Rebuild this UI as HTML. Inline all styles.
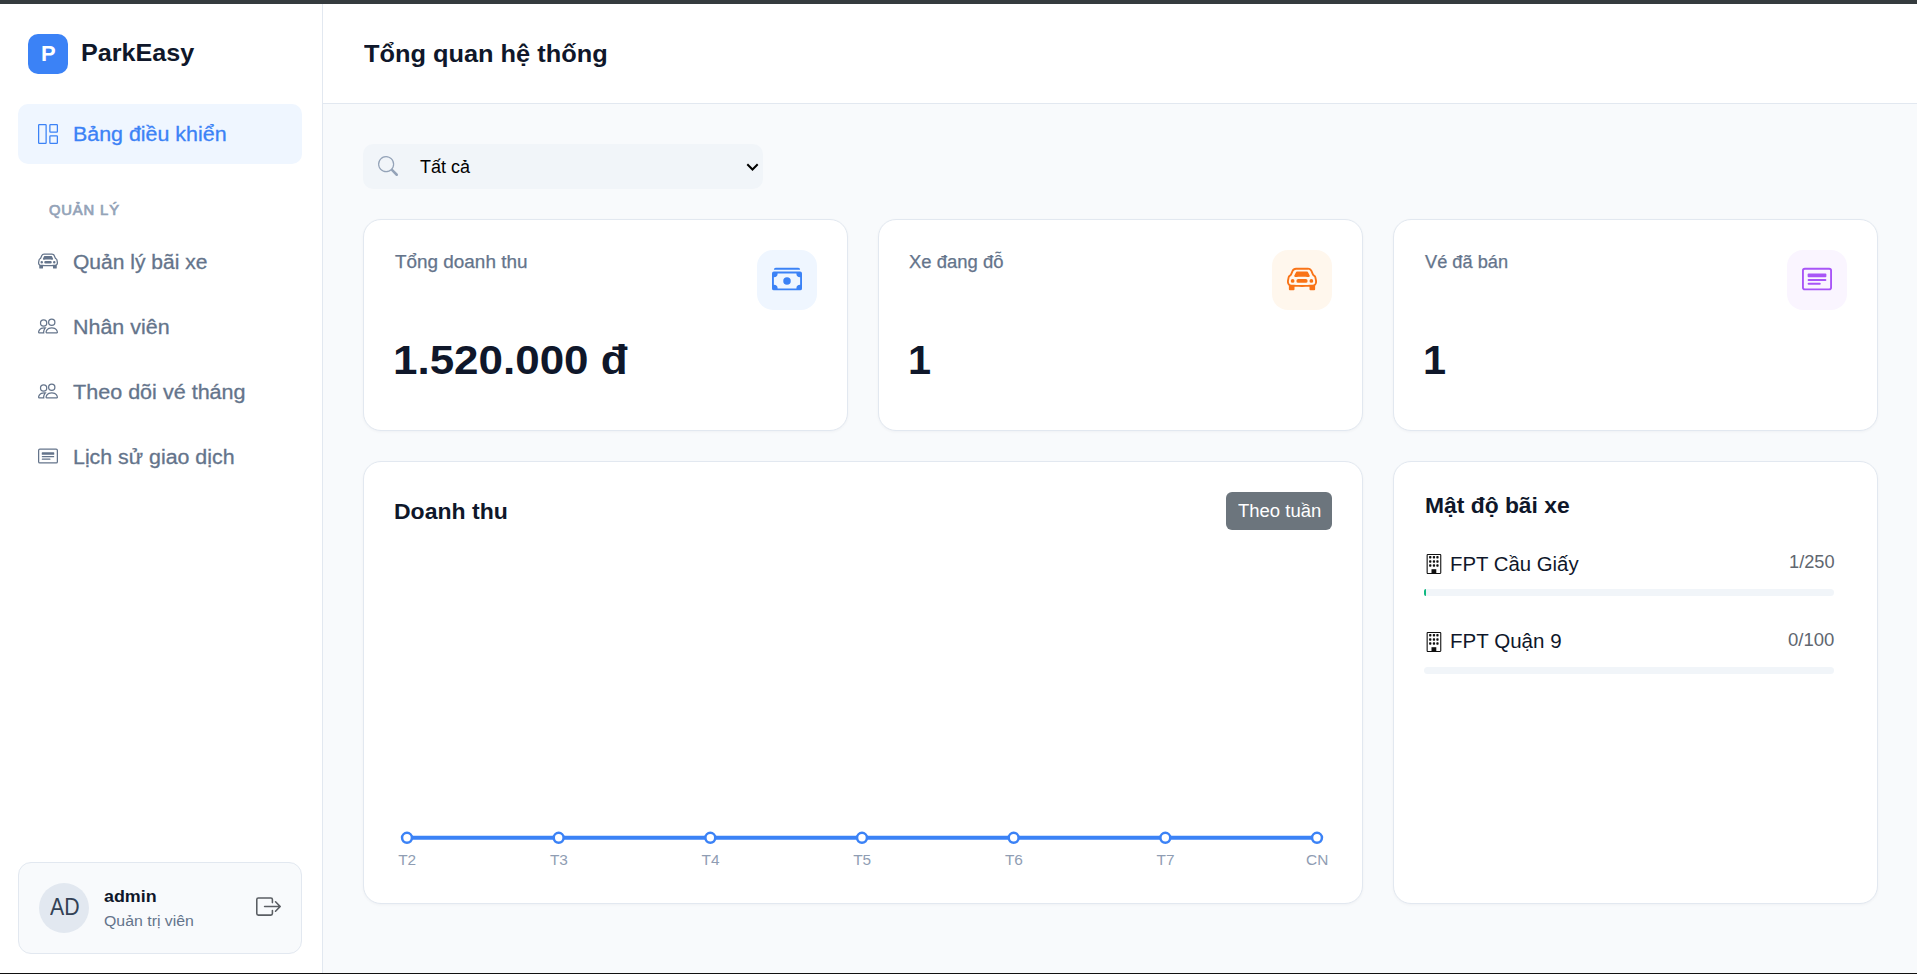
<!DOCTYPE html>
<html lang="vi">
<head>
<meta charset="utf-8">
<title>ParkEasy - Tổng quan hệ thống</title>
<style>
*{box-sizing:border-box;margin:0;padding:0}
html,body{width:1917px;height:974px;overflow:hidden;background:#f8fafc;font-family:"Liberation Sans",sans-serif;color:#0f172a}
body{position:relative}
.abs{position:absolute}
.t{position:absolute;white-space:nowrap;line-height:1;transform-origin:0 50%}
.topstrip{left:0;top:0;width:1917px;height:4px;background:#353b3e}
.botstrip{left:0;top:973px;width:1917px;height:1px;background:#111}
.sidebar{left:0;top:4px;width:323px;height:969px;background:#fff;border-right:1px solid #e2e8f0}
.header{left:323px;top:4px;width:1594px;height:100px;background:#fff;border-bottom:1px solid #e2e8f0}
.logo{left:28px;top:34px;width:40px;height:40px;border-radius:10px;background:#3b82f6}
.navact{left:18px;top:104px;width:284px;height:60px;border-radius:10px;background:#eff6ff}
.nav{color:#64748b;font-size:20px;-webkit-text-stroke:.3px #64748b}
.usercard{left:18px;top:862px;width:284px;height:92px;border-radius:13px;background:#f8fafc;border:1px solid #e2e8f0}
.avatar{left:39px;top:883px;width:50px;height:50px;border-radius:50%;background:#e2e8f0}
.select{left:363px;top:144px;width:400px;height:45px;border-radius:10px;background:#f1f5f9}
.card{background:#fff;border:1px solid #e2e8f0;border-radius:18px;box-shadow:0 1px 3px rgba(15,23,42,.04)}
.stat{top:219px;width:485px;height:212px}
.ibox{top:249.6px;width:60px;height:60px;border-radius:16px}
.lbl{color:#64748b;font-size:17px;-webkit-text-stroke:.25px #64748b}
.val{font-weight:bold;font-size:40px;color:#0f172a}
.btn{left:1226px;top:492px;width:106px;height:38px;border-radius:6px;background:#6c757d}
.bar{left:1424px;width:410px;height:7px;border-radius:4px;background:#f1f5f9}
svg{position:absolute;overflow:visible}
</style>
</head>
<body>
<div class="abs sidebar"></div>
<div class="abs header"></div>
<div class="abs topstrip"></div>
<div class="abs botstrip"></div>

<!-- sidebar -->
<div class="abs logo"></div>
<div id="t_p" class="t" style="left:40.7px;top:43.0px;font-size:22px;font-weight:bold;color:#fff;transform:scaleX(1.0001)">P</div>
<div id="t_brand" class="t" style="left:80.7px;top:41.3px;font-size:24px;font-weight:bold;color:#0f172a;transform:scaleX(1.0487)">ParkEasy</div>

<div class="abs navact"></div>
<svg id="i_grid" style="left:38px;top:124px" width="20" height="20" viewBox="0 0 16 16" fill="#3b82f6"><path d="M6 1H1v14h5zm9 0h-5v5h5zm0 9v5h-5v-5zM0 1a1 1 0 0 1 1-1h5a1 1 0 0 1 1 1v14a1 1 0 0 1-1 1H1a1 1 0 0 1-1-1zm9 0a1 1 0 0 1 1-1h5a1 1 0 0 1 1 1v5a1 1 0 0 1-1 1h-5a1 1 0 0 1-1-1zm1 8a1 1 0 0 0-1 1v5a1 1 0 0 0 1 1h5a1 1 0 0 0 1-1v-5a1 1 0 0 0-1-1z"/></svg>
<div id="t_nav0" class="t" style="left:72.8px;top:123.9px;font-size:20px;color:#3b82f6;-webkit-text-stroke:.3px #3b82f6;transform:scaleX(1.0704)">Bảng điều khiển</div>
<div id="t_sec" class="t" style="left:48.8px;top:203.1px;font-size:14px;font-weight:normal;-webkit-text-stroke:.7px #94a3b8;color:#94a3b8;letter-spacing:.8px;transform:scaleX(1.0564)">QUẢN LÝ</div>

<svg id="i_car" style="left:38px;top:251px" width="20" height="20" viewBox="0 0 16 16" fill="#64748b"><path d="M4 9a1 1 0 1 1-2 0 1 1 0 0 1 2 0m10 0a1 1 0 1 1-2 0 1 1 0 0 1 2 0M6 8a1 1 0 0 0 0 2h4a1 1 0 1 0 0-2zM4.862 4.276 3.906 6.19a.51.51 0 0 0 .497.731c.91-.073 2.35-.17 3.597-.17s2.688.097 3.597.17a.51.51 0 0 0 .497-.731l-.956-1.913A.5.5 0 0 0 10.691 4H5.309a.5.5 0 0 0-.447.276"/><path d="M2.52 3.515A2.5 2.5 0 0 1 4.820 2h6.362c1 0 1.904.596 2.298 1.515l.792 1.848c.075.175.21.319.38.404.5.25.855.715.965 1.262l.335 1.679q.05.242.049.490v.413c0 .814-.39 1.543-1 1.997V13.500a.5.5 0 0 1-.5.5h-2a.5.5 0 0 1-.5-.5v-1.338c-1.292.048-2.745.088-4 .088s-2.708-.04-4-.088V13.500a.5.5 0 0 1-.5.5h-2a.5.5 0 0 1-.5-.5v-1.892c-.61-.454-1-1.183-1-1.997v-.413a2.500 2.500 0 0 1 .049-.490l.335-1.680c.11-.546.465-1.012.964-1.261a.8.8 0 0 0 .381-.404l.792-1.848ZM4.820 3a1.500 1.500 0 0 0-1.379.91l-.792 1.847a1.800 1.800 0 0 1-.853.904.8.8 0 0 0-.43.564L1.030 8.904a1.500 1.500 0 0 0-.03.294v.413c0 .796.62 1.448 1.408 1.484 1.555.07 3.786.155 5.592.155s4.037-.084 5.592-.155A1.480 1.480 0 0 0 15 9.611v-.413q0-.148-.03-.294l-.335-1.680a.8.8 0 0 0-.43-.563 1.800 1.800 0 0 1-.853-.904l-.792-1.848A1.500 1.500 0 0 0 11.180 3z"/></svg>
<div id="t_nav1" class="t nav" style="left:72.9px;top:252.0px;transform:scaleX(1.0516)">Quản lý bãi xe</div>

<svg id="i_ppl1" style="left:38px;top:316px" width="20" height="20" viewBox="0 0 16 16" fill="#64748b"><path d="M15 14s1 0 1-1-1-4-5-4-5 3-5 4 1 1 1 1zm-7.978-1L7 12.996c.001-.264.167-1.030.76-1.720C8.312 10.629 9.282 10 11 10c1.717 0 2.687.63 3.240 1.276.593.69.758 1.457.76 1.720l-.8.002-.14.002zM11 7a2 2 0 1 0 0-4 2 2 0 0 0 0 4m3-2a3 3 0 1 1-6 0 3 3 0 0 1 6 0M6.936 9.280a6 6 0 0 0-1.230-.247A7 7 0 0 0 5 9c-4 0-5 3-5 4q0 1 1 1h4.216A2.240 2.240 0 0 1 5 13c0-1.010.377-2.042 1.090-2.904.243-.294.526-.569.846-.816M4.920 10A5.500 5.500 0 0 0 4 13H1c0-.26.164-1.030.76-1.724.545-.636 1.492-1.256 3.160-1.275ZM1.500 5.500a3 3 0 1 1 6 0 3 3 0 0 1-6 0m3-2a2 2 0 1 0 0 4 2 2 0 0 0 0-4"/></svg>
<div id="t_nav2" class="t nav" style="left:73.3px;top:316.8px;transform:scaleX(1.0727)">Nhân viên</div>

<svg id="i_ppl2" style="left:38px;top:381px" width="20" height="20" viewBox="0 0 16 16" fill="#64748b"><path d="M15 14s1 0 1-1-1-4-5-4-5 3-5 4 1 1 1 1zm-7.978-1L7 12.996c.001-.264.167-1.030.76-1.720C8.312 10.629 9.282 10 11 10c1.717 0 2.687.63 3.240 1.276.593.69.758 1.457.76 1.720l-.8.002-.14.002zM11 7a2 2 0 1 0 0-4 2 2 0 0 0 0 4m3-2a3 3 0 1 1-6 0 3 3 0 0 1 6 0M6.936 9.280a6 6 0 0 0-1.230-.247A7 7 0 0 0 5 9c-4 0-5 3-5 4q0 1 1 1h4.216A2.240 2.240 0 0 1 5 13c0-1.010.377-2.042 1.090-2.904.243-.294.526-.569.846-.816M4.920 10A5.500 5.500 0 0 0 4 13H1c0-.26.164-1.030.76-1.724.545-.636 1.492-1.256 3.160-1.275ZM1.500 5.500a3 3 0 1 1 6 0 3 3 0 0 1-6 0m3-2a2 2 0 1 0 0 4 2 2 0 0 0 0-4"/></svg>
<div id="t_nav3" class="t nav" style="left:72.9px;top:381.7px;transform:scaleX(1.0779)">Theo dõi vé tháng</div>

<svg id="i_card1" style="left:38px;top:446px" width="20" height="20" viewBox="0 0 16 16" fill="#64748b"><path d="M14.500 3a.5.5 0 0 1 .5.5v9a.5.5 0 0 1-.5.5h-13a.5.5 0 0 1-.5-.5v-9a.5.5 0 0 1 .5-.5zm-13-1A1.500 1.500 0 0 0 0 3.500v9A1.500 1.500 0 0 0 1.500 14h13a1.500 1.500 0 0 0 1.500-1.500v-9A1.500 1.500 0 0 0 14.500 2z"/><path d="M3 8.500a.5.5 0 0 1 .5-.5h9a.5.5 0 0 1 0 1h-9a.5.5 0 0 1-.5-.5m0 2a.5.5 0 0 1 .5-.5h6a.5.5 0 0 1 0 1h-6a.5.5 0 0 1-.5-.5m0-5a.5.5 0 0 1 .5-.5h9a.5.5 0 0 1 .5.5v1a.5.5 0 0 1-.5.5h-9a.5.5 0 0 1-.5-.5z"/></svg>
<div id="t_nav4" class="t nav" style="left:73.2px;top:446.9px;transform:scaleX(1.0679)">Lịch sử giao dịch</div>

<div class="abs usercard"></div>
<div class="abs avatar"></div>
<div id="t_ad" class="t" style="left:50.1px;top:895.9px;font-size:23.5px;color:#334155;transform:scaleX(0.9054)">AD</div>
<div id="t_admin" class="t" style="left:104.0px;top:888.3px;font-size:17px;font-weight:bold;color:#0f172a;transform:scaleX(1.0511)">admin</div>
<div id="t_role" class="t" style="left:103.8px;top:913.7px;font-size:14px;color:#64748b;transform:scaleX(1.1332)">Quản trị viên</div>
<svg id="i_logout" style="left:256px;top:894px" width="25" height="25" viewBox="0 0 16 16" fill="#5a5e63"><path fill-rule="evenodd" d="M10 12.500a.5.5 0 0 1-.5.5h-8a.5.5 0 0 1-.5-.5v-9a.5.5 0 0 1 .5-.5h8a.5.5 0 0 1 .5.5v2a.5.5 0 0 0 1 0v-2A1.500 1.500 0 0 0 9.500 2h-8A1.500 1.500 0 0 0 0 3.500v9A1.500 1.500 0 0 0 1.500 14h8a1.500 1.500 0 0 0 1.500-1.500v-2a.5.5 0 0 0-1 0z"/><path fill-rule="evenodd" d="M15.854 8.354a.5.5 0 0 0 0-.708l-3-3a.5.5 0 0 0-.708.708L14.293 7.500H5.500a.5.5 0 0 0 0 1h8.793l-2.147 2.146a.5.5 0 0 0 .708.708z"/></svg>

<!-- header -->
<div id="t_title" class="t" style="left:364.2px;top:42.0px;font-size:24px;font-weight:bold;color:#0f172a;transform:scaleX(1.0565)">Tổng quan hệ thống</div>

<!-- select -->
<div class="abs select"></div>
<svg id="i_search" style="left:378px;top:156px" width="20" height="20" viewBox="0 0 16 16" fill="#94a3b8"><path d="M11.742 10.344a6.500 6.500 0 1 0-1.397 1.398h-.001q.044.060.098.115l3.850 3.850a1 1 0 0 0 1.415-1.414l-3.850-3.850a1 1 0 0 0-.115-.1zM12 6.500a5.500 5.500 0 1 1-11 0 5.500 5.500 0 0 1 11 0"/></svg>
<div id="t_sel" class="t" style="left:420.0px;top:157.8px;font-size:18px;color:#000;transform:scaleX(1.0000)">Tất cả</div>
<svg id="i_chev" style="left:745.5px;top:162.6px" width="13" height="9" viewBox="0 0 13 9" fill="none" stroke="#000" stroke-width="2" stroke-linecap="butt" stroke-linejoin="miter"><path d="M1.300 1.300 6.500 6.500 11.700 1.300"/></svg>

<!-- stat cards -->
<div class="abs card stat" style="left:363px"></div>
<div class="abs card stat" style="left:878px"></div>
<div class="abs card stat" style="left:1393px"></div>
<div class="abs ibox" style="left:757px;background:#eff6ff"></div>
<div class="abs ibox" style="left:1272px;background:#fff7ed"></div>
<div class="abs ibox" style="left:1787px;background:#faf5ff"></div>
<svg id="i_cash" style="left:772px;top:264px" width="30" height="30" viewBox="0 0 16 16" fill="#3b82f6"><path d="M1 3a1 1 0 0 1 1-1h12a1 1 0 0 1 1 1zm7 8a2 2 0 1 0 0-4 2 2 0 0 0 0 4"/><path d="M0 5a1 1 0 0 1 1-1h14a1 1 0 0 1 1 1v8a1 1 0 0 1-1 1H1a1 1 0 0 1-1-1zm3 0a2 2 0 0 1-2 2v4a2 2 0 0 1 2 2h10a2 2 0 0 1 2-2V7a2 2 0 0 1-2-2z"/></svg>
<svg id="i_carf" style="left:1287px;top:264px" width="30" height="30" viewBox="0 0 16 16" fill="#f97316"><path d="M4 9a1 1 0 1 1-2 0 1 1 0 0 1 2 0m10 0a1 1 0 1 1-2 0 1 1 0 0 1 2 0M6 8a1 1 0 0 0 0 2h4a1 1 0 1 0 0-2zM4.862 4.276 3.906 6.19a.51.51 0 0 0 .497.731c.91-.073 2.35-.17 3.597-.17s2.688.097 3.597.17a.51.51 0 0 0 .497-.731l-.956-1.913A.5.5 0 0 0 10.691 4H5.309a.5.5 0 0 0-.447.276"/><path d="M2.52 3.515A2.5 2.5 0 0 1 4.820 2h6.362c1 0 1.904.596 2.298 1.515l.792 1.848c.075.175.21.319.38.404.5.25.855.715.965 1.262l.335 1.679q.05.242.049.490v.413c0 .814-.39 1.543-1 1.997V13.500a.5.5 0 0 1-.5.5h-2a.5.5 0 0 1-.5-.5v-1.338c-1.292.048-2.745.088-4 .088s-2.708-.04-4-.088V13.500a.5.5 0 0 1-.5.5h-2a.5.5 0 0 1-.5-.5v-1.892c-.61-.454-1-1.183-1-1.997v-.413a2.500 2.500 0 0 1 .049-.490l.335-1.680c.11-.546.465-1.012.964-1.261a.8.8 0 0 0 .381-.404l.792-1.848ZM4.820 3a1.500 1.500 0 0 0-1.379.91l-.792 1.847a1.800 1.800 0 0 1-.853.904.8.8 0 0 0-.43.564L1.030 8.904a1.500 1.500 0 0 0-.03.294v.413c0 .796.62 1.448 1.408 1.484 1.555.07 3.786.155 5.592.155s4.037-.084 5.592-.155A1.480 1.480 0 0 0 15 9.611v-.413q0-.148-.03-.294l-.335-1.680a.8.8 0 0 0-.43-.563 1.800 1.800 0 0 1-.853-.904l-.792-1.848A1.500 1.500 0 0 0 11.180 3z"/></svg>
<svg id="i_card2" style="left:1802px;top:264px" width="30" height="30" viewBox="0 0 16 16" fill="#a855f7"><path d="M14.500 3a.5.5 0 0 1 .5.5v9a.5.5 0 0 1-.5.5h-13a.5.5 0 0 1-.5-.5v-9a.5.5 0 0 1 .5-.5zm-13-1A1.500 1.500 0 0 0 0 3.500v9A1.500 1.500 0 0 0 1.500 14h13a1.500 1.500 0 0 0 1.500-1.500v-9A1.500 1.500 0 0 0 14.500 2z"/><path d="M3 8.500a.5.5 0 0 1 .5-.5h9a.5.5 0 0 1 0 1h-9a.5.5 0 0 1-.5-.5m0 2a.5.5 0 0 1 .5-.5h6a.5.5 0 0 1 0 1h-6a.5.5 0 0 1-.5-.5m0-5a.5.5 0 0 1 .5-.5h9a.5.5 0 0 1 .5.5v1a.5.5 0 0 1-.5.5h-9a.5.5 0 0 1-.5-.5z"/></svg>
<div id="t_l1" class="t lbl" style="left:394.8px;top:254.3px;font-size:17.6px;transform:scaleX(1.0743)">Tổng doanh thu</div>
<div id="t_l2" class="t lbl" style="left:909.2px;top:254.3px;font-size:17.6px;transform:scaleX(1.0490)">Xe đang đỗ</div>
<div id="t_l3" class="t lbl" style="left:1424.8px;top:254.3px;font-size:17.6px;transform:scaleX(1.0349)">Vé đã bán</div>
<div id="t_v1" class="t val" style="left:392.5px;top:338.7px;font-size:41.5px;transform:scaleX(1.0593)">1.520.000 đ</div>
<div id="t_v2" class="t val" style="left:908px;top:338.7px;font-size:41.5px">1</div>
<div id="t_v3" class="t val" style="left:1423px;top:338.7px;font-size:41.5px">1</div>

<!-- chart card -->
<div class="abs card" style="left:363px;top:461px;width:1000px;height:443px"></div>
<div id="t_ch" class="t" style="left:393.6px;top:501.1px;font-size:22px;font-weight:bold;color:#0f172a;transform:scaleX(1.0463)">Doanh thu</div>
<div class="abs btn"></div>
<div id="t_btn" class="t" style="left:1238.0px;top:501.9px;font-size:18px;color:#fff;transform:scaleX(1.0269)">Theo tuần</div>
<svg id="chart" style="left:363px;top:461px" width="1000" height="443" viewBox="363 461 1000 443">
<path d="M407 837.8H1317" stroke="#3b82f6" stroke-width="4" fill="none"/>
<g fill="#fff" stroke="#3b82f6" stroke-width="2.5"><circle cx="407.00" cy="837.8" r="4.95"/><circle cx="558.67" cy="837.8" r="4.95"/><circle cx="710.33" cy="837.8" r="4.95"/><circle cx="862.00" cy="837.8" r="4.95"/><circle cx="1013.67" cy="837.8" r="4.95"/><circle cx="1165.33" cy="837.8" r="4.95"/><circle cx="1317.00" cy="837.8" r="4.95"/></g>
<g font-family="Liberation Sans, sans-serif" font-size="15.4" fill="#8f9db3" text-anchor="middle"><text x="407.20" y="864.9">T2</text><text x="558.87" y="864.9">T3</text><text x="710.53" y="864.9">T4</text><text x="862.20" y="864.9">T5</text><text x="1013.87" y="864.9">T6</text><text x="1165.53" y="864.9">T7</text><text x="1317.20" y="864.9">CN</text></g>
</svg>

<!-- density card -->
<div class="abs card" style="left:1393px;top:461px;width:485px;height:443px"></div>
<div id="t_dn" class="t" style="left:1424.7px;top:495.1px;font-size:22.5px;font-weight:bold;color:#0f172a;transform:scaleX(1.0150)">Mật độ bãi xe</div>
<svg style="left:1426px;top:554px" width="16" height="20" viewBox="0 0 16 20"><rect x="1.15" y="0.55" width="13.6" height="18.9" rx="0.6" fill="#fff" stroke="#111" stroke-width="1.1"/><rect x="3.1" y="2.0" width="2.3" height="2.5" rx="0.7" fill="#111"/><rect x="3.1" y="6.2" width="2.3" height="2.5" rx="0.7" fill="#111"/><rect x="3.1" y="10.2" width="2.3" height="2.5" rx="0.7" fill="#111"/><rect x="6.8" y="2.0" width="2.3" height="2.5" rx="0.7" fill="#111"/><rect x="6.8" y="6.2" width="2.3" height="2.5" rx="0.7" fill="#111"/><rect x="6.8" y="10.2" width="2.3" height="2.5" rx="0.7" fill="#111"/><rect x="10.3" y="2.0" width="2.3" height="2.5" rx="0.7" fill="#111"/><rect x="10.3" y="6.2" width="2.3" height="2.5" rx="0.7" fill="#111"/><rect x="10.3" y="10.2" width="2.3" height="2.5" rx="0.7" fill="#111"/><rect x="5.5" y="15.2" width="4.8" height="4.3" fill="#111"/></svg>
<div id="t_p1" class="t" style="left:1450.3px;top:553.6px;font-size:20px;color:#0f172a;transform:scaleX(1.0180)">FPT Cầu Giấy</div>
<div id="t_c1" class="t" style="left:1788.6px;top:554.0px;font-size:17.6px;color:#60666f;transform:scaleX(1.0361)">1/250</div>
<div class="abs bar" style="top:589px"></div>
<div class="abs" style="left:1424px;top:589px;width:2px;height:7px;border-radius:4px 0 0 4px;background:#10b981"></div>
<svg style="left:1426px;top:632px" width="16" height="20" viewBox="0 0 16 20"><rect x="1.15" y="0.55" width="13.6" height="18.9" rx="0.6" fill="#fff" stroke="#111" stroke-width="1.1"/><rect x="3.1" y="2.0" width="2.3" height="2.5" rx="0.7" fill="#111"/><rect x="3.1" y="6.2" width="2.3" height="2.5" rx="0.7" fill="#111"/><rect x="3.1" y="10.2" width="2.3" height="2.5" rx="0.7" fill="#111"/><rect x="6.8" y="2.0" width="2.3" height="2.5" rx="0.7" fill="#111"/><rect x="6.8" y="6.2" width="2.3" height="2.5" rx="0.7" fill="#111"/><rect x="6.8" y="10.2" width="2.3" height="2.5" rx="0.7" fill="#111"/><rect x="10.3" y="2.0" width="2.3" height="2.5" rx="0.7" fill="#111"/><rect x="10.3" y="6.2" width="2.3" height="2.5" rx="0.7" fill="#111"/><rect x="10.3" y="10.2" width="2.3" height="2.5" rx="0.7" fill="#111"/><rect x="5.5" y="15.2" width="4.8" height="4.3" fill="#111"/></svg>
<div id="t_p2" class="t" style="left:1450.3px;top:631.4px;font-size:20px;color:#0f172a;transform:scaleX(1.0277)">FPT Quận 9</div>
<div id="t_c2" class="t" style="left:1787.8px;top:632.0px;font-size:17.6px;color:#60666f;transform:scaleX(1.0537)">0/100</div>
<div class="abs bar" style="top:667px"></div>

</body>
</html>
